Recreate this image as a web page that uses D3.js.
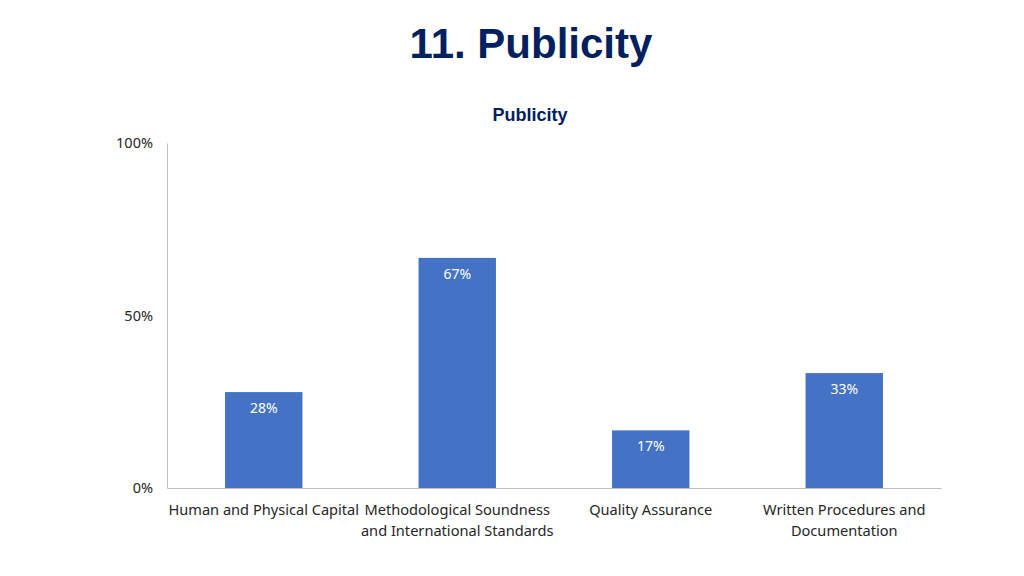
<!DOCTYPE html>
<html>
<head>
<meta charset="utf-8">
<script src="https://cdn.jsdelivr.net/npm/d3@7"></script>
<style>
  body { margin: 0; background: #fff; }
  svg { display: block; }
</style>
</head>
<body>
<div id="chart"></div>
<script>
// chart data
var categories = [
  ["Human and Physical Capital"],
  ["Methodological Soundness", "and International Standards"],
  ["Quality Assurance"],
  ["Written Procedures and", "Documentation"]
];
var values = [0.278, 0.667, 0.167, 0.333];
var yTicks = [0, 0.5, 1];

var totalWidth = 1024,
    totalHeight = 576,
    margin = {top: 143, right: 83, bottom: 88, left: 167},
    width = totalWidth - margin.left - margin.right,
    height = totalHeight - margin.top - margin.bottom;

var font = "'Noto Sans', 'Open Sans', sans-serif";

var svg = d3.select("#chart").append("svg")
    .attr("width", totalWidth)
    .attr("height", totalHeight);

svg.append("text")
    .attr("x", 531)
    .attr("y", 58)
    .attr("text-anchor", "middle")
    .style("font-family", "'Liberation Sans', Arial, sans-serif")
    .style("font-weight", "bold")
    .style("font-size", "42px")
    .style("fill", "#002060")
    .text("11. Publicity");

svg.append("text")
    .attr("x", 530)
    .attr("y", 121)
    .attr("text-anchor", "middle")
    .style("font-family", "'Liberation Sans', Arial, sans-serif")
    .style("font-weight", "bold")
    .style("font-size", "18px")
    .style("fill", "#002060")
    .text("Publicity");

var g = svg.append("g")
    .attr("transform", "translate(" + margin.left + "," + margin.top + ")");

var x = d3.scaleBand()
    .domain(d3.range(categories.length))
    .range([0, width])
    .padding(0);

var y = d3.scaleLinear()
    .domain([0, 1])
    .range([height, 0]);

var barWidth = x.bandwidth() * 0.4;

// y axis
var yAxis = g.append("g")
    .call(d3.axisLeft(y).tickValues(yTicks).tickFormat(d3.format(".0%")).tickSize(0).tickPadding(14));
yAxis.select(".domain").attr("stroke", "#bfbfbf");
yAxis.selectAll("text")
    .style("font-family", font)
    .style("font-size", "14.5px")
    .style("fill", "#262626");

// bars
var bar = g.selectAll(".bar")
    .data(values)
  .enter().append("g")
    .attr("class", "bar");

bar.append("rect")
    .attr("x", function(d, i) { return x(i) + (x.bandwidth() - barWidth) / 2; })
    .attr("y", function(d) { return y(d); })
    .attr("width", barWidth)
    .attr("height", function(d) { return height - y(d); })
    .attr("fill", "#4472c4");

bar.append("text")
    .attr("x", function(d, i) { return x(i) + x.bandwidth() / 2; })
    .attr("y", function(d) { return y(d) + 21; })
    .attr("text-anchor", "middle")
    .style("font-family", font)
    .style("font-size", "14px")
    .style("fill", "#ffffff")
    .text(function(d) { return d3.format(".0%")(d); });

// x axis
var xAxis = g.append("g")
    .attr("transform", "translate(0," + height + ")")
    .call(d3.axisBottom(x).tickSize(0).tickFormat(""));
xAxis.select(".domain").attr("stroke", "#bfbfbf");

var labels = g.selectAll(".cat")
    .data(categories)
  .enter().append("text")
    .attr("class", "cat")
    .attr("text-anchor", "middle")
    .style("font-family", font)
    .style("font-size", "14.6px")
    .style("fill", "#262626");

labels.selectAll("tspan")
    .data(function(d, i) { return d.map(function(t) { return {t: t, i: i}; }); })
  .enter().append("tspan")
    .attr("x", function(d) { return x(d.i) + x.bandwidth() / 2; })
    .attr("y", function(d, j) { return height + 27 + j * 21; })
    .text(function(d) { return d.t; });
</script>
</body>
</html>
